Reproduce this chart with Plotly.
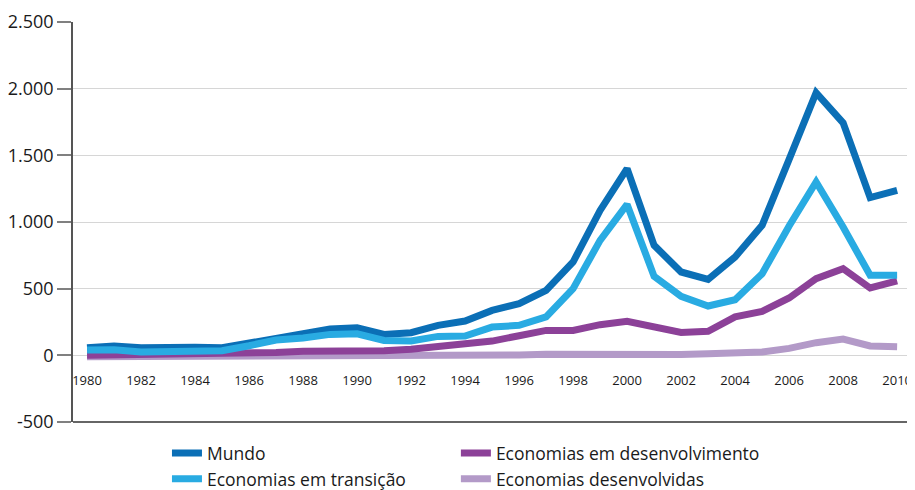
import plotly.graph_objects as go

years = list(range(1980, 2011))

mundo = [57, 70, 57, 52, 60, 57, 92, 137, 167, 197, 207, 157, 170, 225, 257, 337,
         388, 487, 700, 1087, 1400, 825, 625, 570, 738, 975, 1470, 1970, 1743, 1183, 1237]
transicao = [40, 42, 25, 25, 32, 35, 72, 115, 130, 157, 162, 112, 108, 142, 145, 212,
             225, 288, 500, 862, 1132, 592, 442, 370, 417, 612, 970, 1300, 962, 600, 600]
desenvolvimento = [0, 2, 3, 4, 6, 10, 15, 22, 30, 30, 32, 35, 45, 70, 95, 107,
                   147, 187, 187, 230, 255, 212, 172, 180, 288, 330, 430, 575, 650, 505, 558]
desenvolvidas = [-10, -10, -8, -8, -6, -5, -2, 0, 0, 1, 1, 2, 2, 2, 2, 3,
                 3, 8, 5, 5, 5, 5, 6, 12, 22, 25, 52, 95, 122, 70, 65]

x_ticks = list(range(1980, 2011, 2))
x_labels = [str(y) for y in x_ticks]
y_ticks = [-500, 0, 500, 1000, 1500, 2000, 2500]
y_labels = ["-500", "0", "500", "1.000", "1.500", "2.000", "2.500"]

C_MUNDO = "#0b6fb6"
C_TRANS = "#29abe2"
C_DEV = "#8c4198"
C_DESV = "#b39ac8"

FONT = "Open Sans"

fig = go.Figure()
fig.add_trace(go.Scatter(x=years, y=desenvolvidas, mode="lines", name="Economias desenvolvidas",
                         line=dict(color=C_DESV, width=7), legend="legend2", legendrank=2))
fig.add_trace(go.Scatter(x=years, y=desenvolvimento, mode="lines", name="Economias em desenvolvimento",
                         line=dict(color=C_DEV, width=7), legend="legend2", legendrank=1))
fig.add_trace(go.Scatter(x=years, y=mundo, mode="lines", name="Mundo",
                         line=dict(color=C_MUNDO, width=7), legend="legend", legendrank=1))
fig.add_trace(go.Scatter(x=years, y=transicao, mode="lines", name="Economias em transição",
                         line=dict(color=C_TRANS, width=7), legend="legend", legendrank=2))

legend_common = dict(orientation="v", font=dict(family=FONT, size=17.5, color="#1a1a1a"),
                     bgcolor="rgba(0,0,0,0)", yanchor="bottom", xanchor="left",
                     itemwidth=30, tracegroupgap=0)

# the page body has an 8px margin, so the figure is sized/offset to compensate
fig.update_layout(
    width=907, height=482,
    margin=dict(l=65, r=6, t=14, b=68, autoexpand=False),
    paper_bgcolor="white", plot_bgcolor="white",
    font=dict(family=FONT, color="#1a1a1a"),
    showlegend=True,
    legend=dict(x=0.1124, y=-0.188, **legend_common),
    legend2=dict(x=0.458, y=-0.188, **legend_common),
    xaxis=dict(range=[1979.48, 2010.44], tickvals=x_ticks, ticktext=x_labels,
               anchor="free", position=(422 - 355) / 400, showline=False, showgrid=False,
               zeroline=False, ticks="", ticklabelstandoff=16, automargin=False,
               tickfont=dict(family=FONT, size=13, color="#1a1a1a")),
    yaxis=dict(range=[-500, 2500], tickvals=y_ticks, ticktext=y_labels,
               showline=True, linecolor="#555555", linewidth=1.5, automargin=False,
               ticks="outside", ticklen=14, tickcolor="#808080", tickwidth=1.5,
               showgrid=True, gridcolor="#d6d6d6", gridwidth=1, zeroline=False,
               tickfont=dict(family=FONT, size=18, color="#1a1a1a")),
    shapes=[
        dict(type="line", xref="paper", yref="paper", x0=1, x1=1, y0=0, y1=1,
             line=dict(color="#d6d6d6", width=1)),
        dict(type="line", xref="paper", yref="paper", x0=0, x1=1, y0=0, y1=0,
             line=dict(color="#666666", width=2)),
    ],
)

fig.write_html("out.html")
